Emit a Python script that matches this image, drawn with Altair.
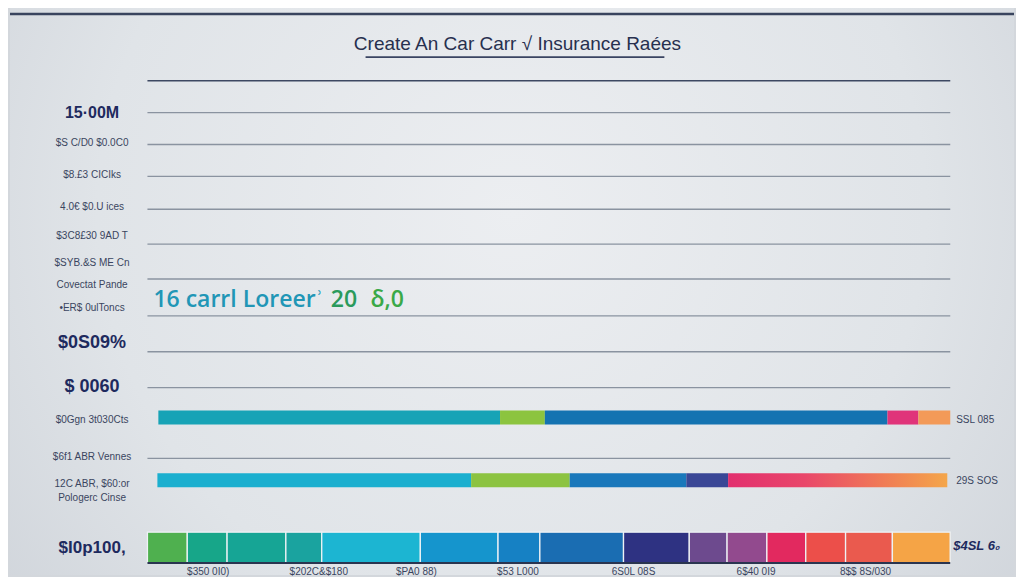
import altair as alt
import pandas as pd

# ---------------- data ----------------
title_text = "Create An Car Carr \u221a Insurance Ra\u00e9es"

# stacked bar segments (share of full width, %)
bar1_start = 1.36
bar1_widths = [42.56, 5.58, 42.68, 3.85, 3.97]
bar1_colors = ["#17a3b6", "#8cc43f", "#1473b1", "#e0347a", "#f39a58"]

bar2_start = 1.24
bar2_widths = [39.08, 12.28, 14.52, 5.21, 27.30]
bar2_colors = ["#1bafcf", "#8cc341", "#1a78bb", "#3a4796", "gradient"]

bar3_start = 0.0
bar3_widths = [4.96, 4.96, 7.32, 4.47, 12.28, 9.68, 5.21, 10.42,
               8.19, 4.71, 4.96, 4.84, 4.96, 5.83, 7.20]
bar3_colors = ["#4fb04f", "#17a689", "#16a595", "#1aa39f", "#1cb5d2",
               "#1595cd", "#1681c4", "#1a6db2", "#2e3282", "#6d4a8e",
               "#924a8e", "#e2295f", "#ec4f4a", "#ea5a4e", "#f5a446"]

# row layout (row units)
bar_rows = [(41.2, 42.6), (47.5, 48.9), (53.4, 56.5)]
grid_rows = [11.3, 14.5, 17.7, 21.0, 24.5, 28.0, 31.7, 35.3, 38.9, 46.0]
top_grid_row = 8.1

left_labels = ["15\u00b700M", "$S C/D0 $0.0C0", "$8.\u00a33 CICIks", "4.0\u20ac $0.U ices",
               "$3C8\u00a330 9AD T", "$SYB.&S ME Cn", "Covectat Pande", "\u2022ER$ 0ulToncs",
               "$0S09%", "$ 0060", "$0Ggn 3t030Cts", "$6f1 ABR Vennes",
               "12C ABR, $60:or", "Pologerc Cinse", "$I0p100,"]
left_rows = [11.3, 14.3, 17.6, 20.8, 23.7, 26.4, 28.6, 30.9,
             34.4, 38.8, 42.1, 45.9, 48.6, 50.0, 55.0]
left_bold = [True, False, False, False, False, False, False, False,
             True, True, False, False, False, False, True]
left_size = [16, 10, 10, 10, 10, 10, 10, 10, 18, 18, 10, 10, 10, 10, 17]

bottom_labels = ["$350 0I0)", "$202C&$180", "$PA0 88)", "$53 L000",
                 "6S0L 08S", "6$40 0I9", "8$$ 8S/030"]
bottom_pos = [7.57, 21.34, 33.50, 46.15, 60.55, 75.81, 89.45]

right_labels = ["SSL 085", "29S SOS", "$4SL 6\u2080"]
right_rows = [42.1, 48.3, 54.8]

callout_parts = ["16 carrl Loreer\u02be", "20", "\u03b4,0"]
callout_pos = [0.74, 22.83, 27.79]
callout_colors = ["#2196b6", "#2a9a5c", "#3aa948"]

# ---------------- scales ----------------
X_MIN, X_MAX = -17.12, 107.94
Y_MIN, Y_MAX = 0.8, 57.7
xs = alt.Scale(domain=[X_MIN, X_MAX], nice=False, zero=False)
ys = alt.Scale(domain=[Y_MIN, Y_MAX], reverse=True, nice=False, zero=False)
FONT = "Liberation Sans"


def X(f):
    return alt.X(f, type="quantitative", scale=xs, axis=None)


def Y(f):
    return alt.Y(f, type="quantitative", scale=ys, axis=None)


# ---------------- tables ----------------
seg_rows = []
for (start, widths, colors, (y0, y1)) in [
    (bar1_start, bar1_widths, bar1_colors, bar_rows[0]),
    (bar2_start, bar2_widths, bar2_colors, bar_rows[1]),
    (bar3_start, bar3_widths, bar3_colors, bar_rows[2]),
]:
    cur = start
    for w, c in zip(widths, colors):
        seg_rows.append({"x": cur, "x2": cur + w, "y": y0, "y2": y1, "c": c,
                         "sep": 1 if len(widths) > 10 else 0})
        cur += w
segs = pd.DataFrame(seg_rows)

bg = pd.DataFrame({"x": [X_MIN], "x2": [X_MAX], "y": [Y_MIN], "y2": [Y_MAX]})
background = alt.Chart(bg).mark_rect(
    fill=alt.RadialGradient(
        gradient="radial", x1=0.5, y1=0.42, r1=0.0, x2=0.5, y2=0.42, r2=0.75,
        stops=[alt.GradientStop(offset=0, color="#eceef1"),
               alt.GradientStop(offset=0.55, color="#e0e4e8"),
               alt.GradientStop(offset=1, color="#c9ced5")])
).encode(x=X("x"), x2="x2", y=Y("y"), y2="y2")

header = alt.Chart(pd.DataFrame({"x": [X_MIN], "x2": [X_MAX], "y": [1.4]})).mark_rule(
    color="#39445e", strokeWidth=2.5).encode(x=X("x"), x2="x2", y=Y("y"))

title = alt.Chart(pd.DataFrame({"t": [title_text], "x": [46.09], "y": [4.4]})).mark_text(
    font=FONT, fontSize=19, color="#27304f", align="center", baseline="middle"
).encode(x=X("x"), y=Y("y"), text="t")

underline = alt.Chart(pd.DataFrame({"x": [27.17], "x2": [64.39], "y": [5.73]})).mark_rule(
    color="#3a4462", strokeWidth=1.8).encode(x=X("x"), x2="x2", y=Y("y"))

grid = alt.Chart(pd.DataFrame({"y": grid_rows, "x": 0.0, "x2": 100.0})).mark_rule(
    color="#8a93a0", strokeWidth=1.4).encode(x=X("x"), x2="x2", y=Y("y"))

top_grid = alt.Chart(pd.DataFrame({"y": [top_grid_row], "x": [0.0], "x2": [100.0]})).mark_rule(
    color="#3d4862", strokeWidth=1.6).encode(x=X("x"), x2="x2", y=Y("y"))

callout_df = pd.DataFrame({"t": callout_parts, "x": callout_pos, "y": 30.1, "c": callout_colors})
callout = alt.Chart(callout_df).mark_text(
    font="Open Sans", fontSize=23, fontWeight=600, align="left", baseline="middle"
).encode(x=X("x"), y=Y("y"), text="t", color=alt.Color("c:N", scale=None))

solid = segs[segs["c"] != "gradient"]
bars_plain = alt.Chart(solid[solid["sep"] == 0]).mark_rect().encode(
    x=X("x"), x2="x2", y=Y("y"), y2="y2", color=alt.Color("c:N", scale=None))
bars_sep = alt.Chart(solid[solid["sep"] == 1]).mark_rect(
    stroke="#eef2f5", strokeWidth=1.3).encode(
    x=X("x"), x2="x2", y=Y("y"), y2="y2", color=alt.Color("c:N", scale=None))
bar_grad = alt.Chart(segs[segs["c"] == "gradient"]).mark_rect(
    fill=alt.LinearGradient(
        gradient="linear", x1=0, y1=0, x2=1, y2=0,
        stops=[alt.GradientStop(offset=0, color="#e22f6e"),
               alt.GradientStop(offset=0.35, color="#e9476a"),
               alt.GradientStop(offset=0.7, color="#f07a56"),
               alt.GradientStop(offset=1, color="#f4a64a")])
).encode(x=X("x"), x2="x2", y=Y("y"), y2="y2")

baseline = alt.Chart(pd.DataFrame({"x": [0.0], "x2": [100.0], "y": [bar_rows[2][1]]})).mark_rule(
    color="#2a3550", strokeWidth=2).encode(x=X("x"), x2="x2", y=Y("y"))

ldf = pd.DataFrame({"t": left_labels, "y": left_rows, "b": left_bold, "s": left_size, "x": -6.9})
left_norm = alt.Chart(ldf[~ldf["b"]]).mark_text(
    font=FONT, color="#3a4560", align="center", baseline="middle"
).encode(x=X("x"), y=Y("y"), text="t", size=alt.Size("s:Q", scale=None, legend=None))
left_bold_ch = alt.Chart(ldf[ldf["b"]]).mark_text(
    font=FONT, fontWeight="bold", color="#1e2a5e", align="center", baseline="middle"
).encode(x=X("x"), y=Y("y"), text="t", size=alt.Size("s:Q", scale=None, legend=None))

bdf = pd.DataFrame({"t": bottom_labels, "x": bottom_pos, "y": 57.4})
bottom = alt.Chart(bdf).mark_text(
    font=FONT, fontSize=10, color="#3a4560", align="center", baseline="middle"
).encode(x=X("x"), y=Y("y"), text="t")

rdf = pd.DataFrame({"t": right_labels, "y": right_rows,
                    "x": [100.74, 100.74, 100.37], "b": [False, False, True]})
right_norm = alt.Chart(rdf[~rdf["b"]]).mark_text(
    font=FONT, fontSize=10, color="#3a4560", align="left", baseline="middle"
).encode(x=X("x"), y=Y("y"), text="t")
right_bold = alt.Chart(rdf[rdf["b"]]).mark_text(
    font=FONT, fontSize=13, fontWeight="bold", fontStyle="italic", color="#1e2a5e",
    align="left", baseline="middle"
).encode(x=X("x"), y=Y("y"), text="t")

chart = alt.layer(
    background, header, title, underline, grid, top_grid, callout,
    bars_plain, bar_grad, bars_sep, baseline,
    left_norm, left_bold_ch, bottom, right_norm, right_bold
).properties(
    width=1008, height=569,
    autosize=alt.AutoSizeParams(type="fit", contains="padding"),
    padding=0, background="#d3d7dc"
).configure_view(stroke=None)

chart.save("out.html", embed_options={"renderer": "svg", "actions": False})
